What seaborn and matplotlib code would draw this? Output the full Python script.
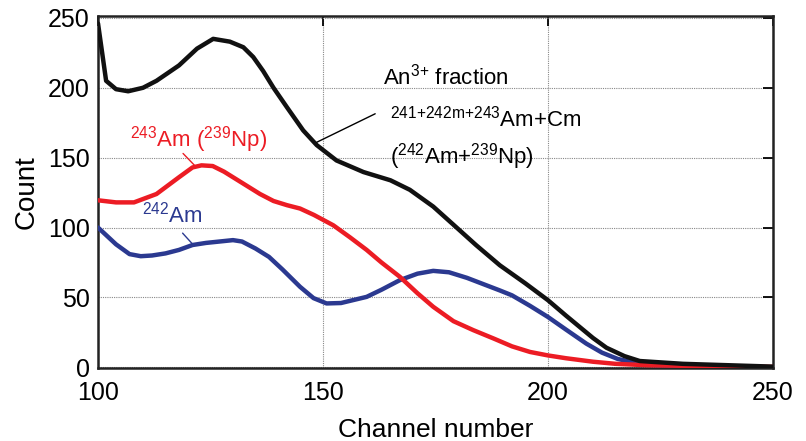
import matplotlib
matplotlib.use("Agg")
import matplotlib.pyplot as plt
import seaborn as sns
import pandas as pd

sns.set_theme(style="white")
plt.rcParams['font.family'] = ['Liberation Sans', 'DejaVu Sans']
plt.rcParams['mathtext.fontset'] = 'custom'
plt.rcParams['mathtext.rm'] = 'Liberation Sans'
plt.rcParams['mathtext.it'] = 'Liberation Sans'

# Black: An3+ fraction (241+242m+243Am+Cm)
black_x = [100, 101.8, 104, 106.7, 110, 113, 118, 122, 125.6, 129.3, 132.3, 134.5, 136.7, 139,
           142, 145.6, 148.6, 153, 159, 165, 169.3, 174.5, 179, 184, 189.3, 195, 200, 204, 207,
           210, 213, 217, 220.4, 230, 240, 250]
black_y = [246, 205, 199, 197.5, 200, 205, 216, 228, 235, 233, 229, 222, 212, 200,
           186, 169.5, 159, 148, 139.7, 133.8, 127, 115, 102, 87.5, 73, 60, 48, 37, 29,
           21, 14, 8, 4.5, 2.5, 1.5, 0.5]
# Red: 243Am (239Np)
red_x = [100, 104, 108, 113, 118, 121, 123, 125.5, 128, 132, 136, 139, 142, 144.9, 148, 152.3,
         156, 159.7, 163, 167.1, 171, 174.5, 179, 183.4, 188, 192, 196, 200, 204, 210, 215,
         222, 235, 250]
red_y = [119.5, 118, 118, 124, 136, 143, 144.5, 144, 140, 132, 124, 119, 116, 113.6, 109, 101.6,
         93, 84, 75, 64.7, 53, 43.3, 33, 26.6, 20.5, 15, 11, 8.5, 6.5, 4, 2.5,
         1.5, 0.8, 0.3]
# Blue: 242Am
blue_x = [100, 104, 107, 109.5, 112, 115, 118, 121, 124, 127, 130, 132, 135, 138, 141, 144.9,
          147.9, 150.8, 154, 159.7, 163, 167.1, 171, 174.5, 178, 182, 189.3, 192, 196, 200, 204,
          208.5, 212, 215.5, 221, 230, 240, 250]
blue_y = [100, 88, 81, 79.5, 80, 81.5, 84, 87.5, 89, 90, 91, 90, 85, 79, 70, 57.6,
          49.5, 45.7, 46, 50.4, 55.5, 62.4, 67, 69, 68, 64, 55, 51.5, 44, 36, 27,
          17, 10.5, 6, 2, 1, 0.5, 0]

df = pd.concat([
    pd.DataFrame({"Channel": black_x, "Count": black_y, "Series": "An3+"}),
    pd.DataFrame({"Channel": red_x, "Count": red_y, "Series": "243Am"}),
    pd.DataFrame({"Channel": blue_x, "Count": blue_y, "Series": "242Am"}),
])
palette = {"An3+": "#111111", "243Am": "#ec1c24", "242Am": "#2b3990"}

fig = plt.figure(figsize=(8.06, 4.41), dpi=100)
ax = fig.add_axes([0.1216, 0.1655, 0.8374, 0.7971])

for name in ["242Am", "243Am", "An3+"]:
    sns.lineplot(data=df[df.Series == name], x="Channel", y="Count", color=palette[name],
                 linewidth=3.2, ax=ax, sort=False, estimator=None, legend=False, zorder=3)

ax.set_xlim(100, 250)
ax.set_ylim(-0.5, 251)
ax.set_xticks([100, 150, 200, 250])
ax.set_yticks([0, 50, 100, 150, 200, 250])
ax.grid(True, linestyle=(0, (1, 1)), color="#888888", linewidth=0.8)
ax.tick_params(direction="in", length=7, width=1.3, top=True, right=True,
               labelsize=18, colors="black", pad=6)
ax.tick_params(axis="x", pad=9)
for s in ax.spines.values():
    s.set_color("#222222")
    s.set_linewidth(1.8)

ax.set_xlabel("Channel number", fontsize=19, labelpad=10, color="black")
ax.set_ylabel("Count", fontsize=20, labelpad=6, color="black")

fs = 16
ax.text(163.3, 208, r"An$^{\text{3+}}$ fraction", fontsize=fs, color="black", va="center")
ax.text(164.9, 178, r"$^{\text{241+242m+243}}$Am+Cm", fontsize=fs, color="black", va="center")
ax.text(164.9, 151, r"($^{\text{242}}$Am+$^{\text{239}}$Np)", fontsize=fs, color="black", va="center")
ax.plot([148.6, 161.6], [161, 181.4], color="black", linewidth=1.0, zorder=4)

ax.text(107, 163, r"$^{\text{243}}$Am ($^{\text{239}}$Np)", fontsize=fs, color="#ec1c24", va="center")
ax.plot([118.9, 121.6], [153, 144], color="#ec1c24", linewidth=1.0, zorder=4)

ax.text(109.8, 109.5, r"$^{\text{242}}$Am", fontsize=fs, color="#2b3990", va="center")
ax.plot([118.8, 121.2], [96, 87.5], color="#2b3990", linewidth=1.0, zorder=4)

fig.savefig("out.png", dpi=100)
